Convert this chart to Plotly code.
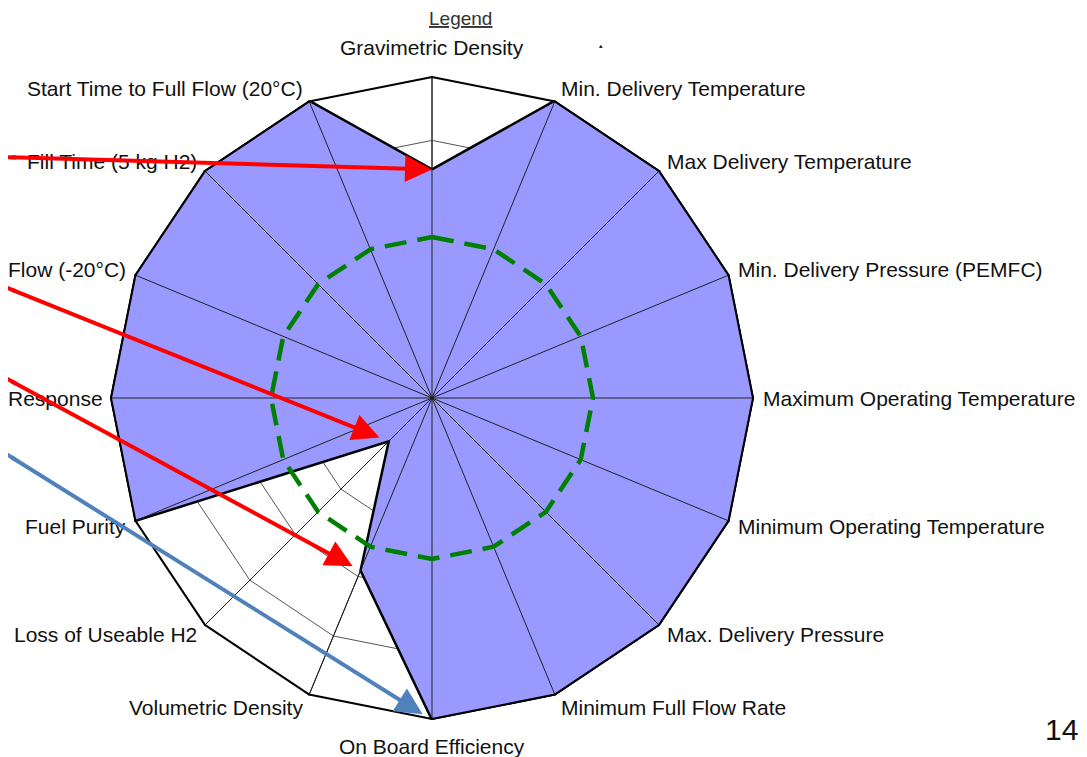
import plotly.graph_objects as go
import math

# ---- data ----
categories = [
    "Gravimetric Density",
    "Min. Delivery Temperature",
    "Max Delivery Temperature",
    "Min. Delivery Pressure (PEMFC)",
    "Maximum Operating Temperature",
    "Minimum Operating Temperature",
    "Max. Delivery Pressure",
    "Minimum Full Flow Rate",
    "On Board Efficiency",
    "Volumetric Density",
    "Loss of Useable H2",
    "Fuel Purity",
    "Response",
    "Flow (-20°C)",
    "Fill Time (5 kg H2)",
    "Start Time to Full Flow (20°C)",
]
status_values = [0.71, 1.0, 1.0, 1.0, 1.0, 1.0, 1.0, 1.0,
                 1.0, 0.58, 0.19, 1.0, 1.0, 1.0, 1.0, 1.0]
target_values = [1.0] * 16
reference_values = [0.5] * 16

# arrows: (category index pointed at, colour, standoff px, y where the arrow leaves the left edge)
arrow_specs = [
    (0, "#FF0000", 0, 157),
    (10, "#FF0000", 10, 285),
    (9, "#FF0000", 9, 375),
    (8, "#4F81BD", 11, 450),
]

OFF = 8  # page body margin
W, H = 1087 - OFF, 757 - OFF
CX, CY, RAD = 432.0 - OFF, 398.0 - OFF, 322.0
dom_x = [(CX - RAD) / W, (CX + RAD) / W]
dom_y = [1 - (CY + RAD) / H, 1 - (CY - RAD) / H]

FONT = "Arial, Liberation Sans, sans-serif"
LABEL_SIZE = 21

# approximate Arial advance widths (per 1000 em) for keeping labels on the page
_AW = {" ": 278, "i": 222, "l": 222, "j": 222, "f": 278, "t": 278, "r": 333,
       "(": 333, ")": 333, "-": 333, ".": 278, "°": 400, "m": 833, "w": 722,
       "R": 722, "C": 722, "D": 722, "F": 611, "T": 611, "M": 833, "s": 500,
       "c": 500, "k": 500, "v": 500, "y": 500, "x": 500, "z": 500}


def text_width(t, size):
    return sum(_AW.get(ch, 556) for ch in t) * size / 1000.0


def close(seq):
    return list(seq) + [seq[0]]


fig = go.Figure()

fig.add_trace(go.Scatterpolar(
    r=close(status_values), theta=close(categories),
    mode="lines", fill="toself", fillcolor="#9999FF",
    line=dict(color="black", width=2.5), hoverinfo="skip", showlegend=False,
))

spoke_r, spoke_t = [], []
for c in categories:
    spoke_r += [0, 1, None]
    spoke_t += [c, c, None]
fig.add_trace(go.Scatterpolar(
    r=spoke_r, theta=spoke_t, mode="lines",
    line=dict(color="#222222", width=1), connectgaps=False,
    hoverinfo="skip", showlegend=False,
))

fig.add_trace(go.Scatterpolar(
    r=close(reference_values), theta=close(categories), mode="lines",
    line=dict(color="#008000", width=4.5, dash="22px,11px"),
    hoverinfo="skip", showlegend=False,
))

fig.add_trace(go.Scatterpolar(
    r=close(target_values), theta=close(categories), mode="lines",
    line=dict(color="black", width=4),
    hoverinfo="skip", showlegend=False,
))

fig.update_layout(
    width=W, height=H,
    margin=dict(l=0, r=0, t=0, b=0),
    paper_bgcolor="white", plot_bgcolor="white",
    showlegend=False,
    font=dict(family=FONT, color="#111111"),
    polar=dict(
        domain=dict(x=dom_x, y=dom_y),
        bgcolor="white",
        gridshape="linear",
        radialaxis=dict(range=[0, 1], dtick=0.2, showticklabels=False,
                        ticks="", showline=False, gridcolor="#555555",
                        gridwidth=1),
        angularaxis=dict(rotation=90, direction="clockwise",
                         showline=False, gridcolor="#222222", gridwidth=1,
                         ticks="", showticklabels=False),
    ),
)

n = len(categories)
annotations = []
shapes = []

# category labels placed just outside the outer polygon, Excel style
for i, cat in enumerate(categories):
    ang = math.radians(360.0 * i / n)
    s, c = math.sin(ang), math.cos(ang)
    vx = CX + RAD * s
    vy = CY - RAD * c
    if abs(s) < 0.1:
        xa = "center"
        px = vx
        dy = -28 if c > 0 else 26
    else:
        xa = "left" if s > 0 else "right"
        px = vx + (2 + 5 * abs(s)) * (1 if s > 0 else -1)
        dy = -13 * c
        if s < 0:
            # keep the text inside the page
            px = max(px, text_width(cat, LABEL_SIZE) + 2)
    annotations.append(dict(
        x=px / W, y=1 - (vy + dy) / H, xref="paper", yref="paper",
        xanchor=xa, yanchor="middle", text=cat, showarrow=False,
        font=dict(size=LABEL_SIZE, color="#111111", family=FONT)))

for idx, col, stand, yleft in arrow_specs:
    ang = math.radians(360.0 * idx / n)
    rpx = status_values[idx] * RAD
    px = CX + rpx * math.sin(ang)
    py = CY - rpx * math.cos(ang)
    lx, ly = -OFF, yleft - OFF
    slope = (py - ly) / (px - lx)
    tail_x = 2.0
    tail_y = ly + slope * (tail_x - lx)
    annotations.append(dict(
        x=px / W, y=1 - py / H, xref="paper", yref="paper",
        text="", showarrow=True, arrowhead=2, arrowsize=1.35,
        arrowwidth=4, arrowcolor=col, standoff=stand,
        axref="pixel", ayref="pixel", ax=tail_x - px, ay=tail_y - py,
    ))
    ext_x = -40.0
    ext_y = ly + slope * (ext_x - lx)
    shapes.append(dict(type="line", xref="paper", yref="paper",
                       x0=ext_x / W, y0=1 - ext_y / H,
                       x1=(tail_x + 6) / W, y1=1 - (ly + slope * (tail_x + 6 - lx)) / H,
                       line=dict(color=col, width=4)))

annotations.append(dict(x=(461 - OFF) / W, y=1 - (18 - OFF) / H,
                        xref="paper", yref="paper", xanchor="center", yanchor="middle",
                        text="<u>Legend</u>", showarrow=False,
                        font=dict(size=19, color="#333333", family=FONT)))
annotations.append(dict(x=(601 - OFF) / W, y=1 - (46 - OFF) / H,
                        xref="paper", yref="paper", xanchor="center", yanchor="middle",
                        text="▴", showarrow=False,
                        font=dict(size=7, color="#222222", family=FONT)))
annotations.append(dict(x=(1061 - OFF) / W, y=1 - (729 - OFF) / H,
                        xref="paper", yref="paper", xanchor="center", yanchor="middle",
                        text="14", showarrow=False,
                        font=dict(size=30, color="#111111", family=FONT)))
fig.update_layout(annotations=annotations, shapes=shapes)

fig.write_html("out.html")
